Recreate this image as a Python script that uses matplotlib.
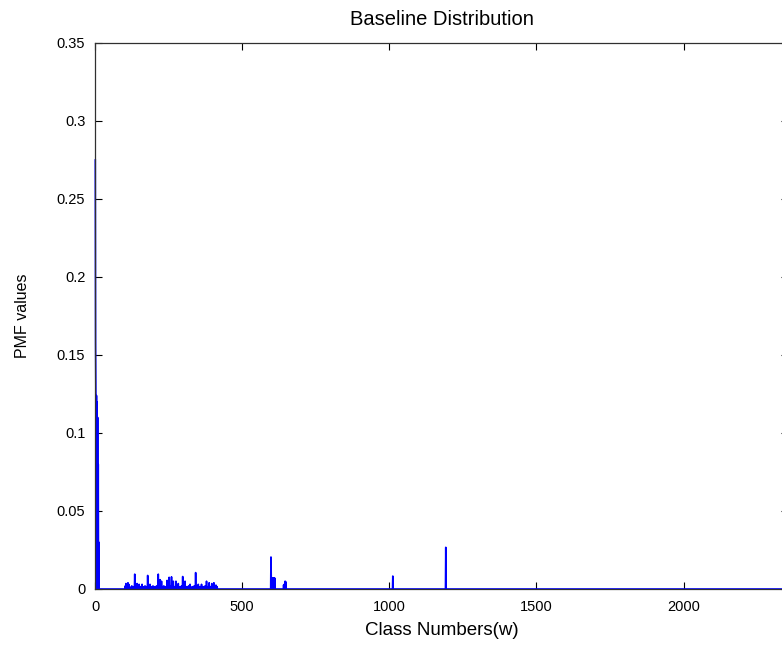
import numpy as np
import matplotlib
matplotlib.use("Agg")
import matplotlib.pyplot as plt

plt.rcParams['font.family'] = ['Liberation Sans', 'DejaVu Sans']

title = "Baseline Distribution"
xlabel = "Class Numbers(w)"
ylabel = "PMF values"
n_classes = 2355
xticks = [0, 500, 1000, 1500, 2000]
yticks = [0, 0.05, 0.1, 0.15, 0.2, 0.25, 0.3, 0.35]
ytick_labels = ["0", "0.05", "0.1", "0.15", "0.2", "0.25", "0.3", "0.35"]

# non-zero PMF entries (class number -> value)
head_classes = [1, 2, 3, 4, 5, 6, 7, 8, 9, 10, 11, 12, 13]
head_values = [0.275, 0.158, 0.125, 0.0, 0.124, 0.0, 0.12, 0.0, 0.11, 0.0, 0.08, 0.0, 0.03]

mid_classes = [103, 105, 108, 112, 115, 118, 125, 130, 135, 138, 143, 147, 150, 155, 160,
               166, 170, 175, 179, 183, 187, 192, 197, 203, 209, 215, 218, 221, 226, 230,
               234, 240, 245, 249, 252, 256, 260, 263, 266, 270, 275, 279, 283, 289, 294,
               298, 302, 306, 312, 318, 323, 330, 337, 342, 346, 351, 357, 362, 368, 374,
               379, 384, 388, 392, 397, 401, 404, 408, 411, 415]
mid_values = [0.002, 0.0035, 0.002, 0.004, 0.003, 0.0015, 0.002, 0.0015, 0.0095, 0.002, 0.0035,
              0.0015, 0.003, 0.0015, 0.003, 0.0015, 0.002, 0.0015, 0.0087, 0.002, 0.003, 0.0015,
              0.002, 0.0015, 0.002, 0.0095, 0.003, 0.006, 0.005, 0.0015, 0.002, 0.0015, 0.0055,
              0.002, 0.0075, 0.002, 0.0078, 0.0025, 0.005, 0.0015, 0.005, 0.002, 0.0035, 0.0015,
              0.002, 0.008, 0.002, 0.005, 0.0015, 0.002, 0.003, 0.0015, 0.002, 0.0105, 0.002,
              0.003, 0.0015, 0.003, 0.0015, 0.002, 0.005, 0.0015, 0.004, 0.0015, 0.0035, 0.002,
              0.004, 0.0015, 0.0025, 0.0015]

spike_classes = [598, 599, 600, 601, 602, 603, 604, 605, 606, 607, 608, 609, 610, 611,
                 641, 643, 646, 648, 1012, 1192]
spike_values = [0.0205, 0.007, 0.0, 0.007, 0.0, 0.007, 0.0, 0.007, 0.0, 0.007, 0.0,
                0.007, 0.0, 0.007, 0.0026, 0.003, 0.005, 0.0047, 0.0083, 0.0267]

pmf = np.zeros(n_classes)
for c, v in zip(head_classes + mid_classes + spike_classes,
                head_values + mid_values + spike_values):
    pmf[c - 1] = v
classes = np.arange(1, n_classes + 1)

fig = plt.figure(figsize=(7.82, 6.5), dpi=100)
ax = fig.add_axes([95 / 782, (650 - 589) / 650, (788 - 95) / 782, 546 / 650])
ax.plot(classes, pmf, color=(0, 0, 1), linewidth=1.2, clip_on=False)
ax.set_xlim(0, n_classes)
ax.set_ylim(0, 0.35)
ax.set_xticks(xticks)
ax.set_xticklabels([str(t) for t in xticks])
ax.set_yticks(yticks)
ax.set_yticklabels(ytick_labels)
ax.tick_params(direction='in', length=5, width=0.8, top=True, right=True,
               labelsize=10.5, colors='black')
ax.tick_params(axis='x', pad=8)
ax.tick_params(axis='y', pad=7)
for s in ax.spines.values():
    s.set_linewidth(0.9)
    s.set_color('#303030')
ax.set_title(title, fontsize=14.5, pad=13)
ax.set_xlabel(xlabel, fontsize=13.5, labelpad=6)
ax.set_ylabel(ylabel, fontsize=11.5, labelpad=19)
fig.savefig("out.png", dpi=100)
